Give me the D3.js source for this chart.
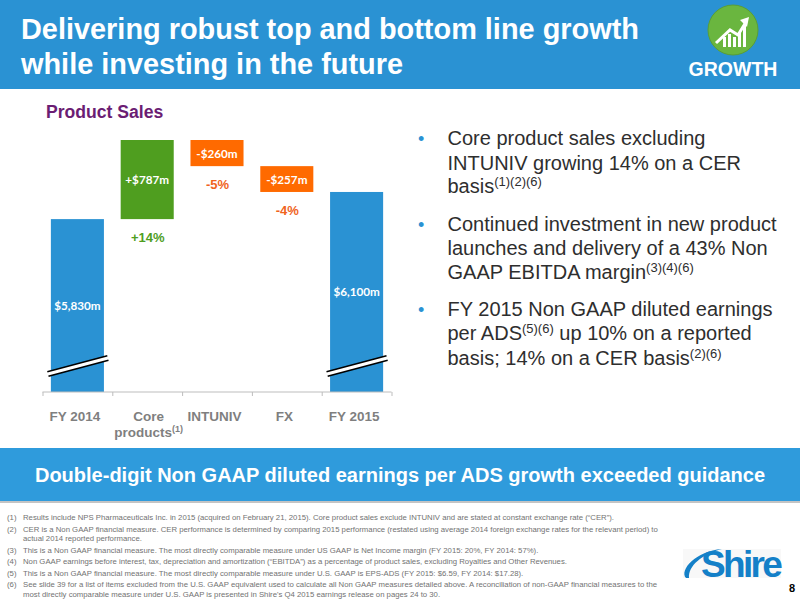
<!DOCTYPE html>
<html>
<head>
<meta charset="utf-8">
<script src="https://cdn.jsdelivr.net/npm/d3@7"></script>
<style>
body { margin: 0; background: #fff; }
svg { display: block; font-family: "Liberation Sans", Arial, sans-serif; }
.val { font-family: Lato, sans-serif; font-weight: 700; font-size: 11.7px; fill: #fff; text-anchor: middle; }
.pct { font-weight: bold; font-size: 13px; text-anchor: middle; }
.cat { font-weight: bold; font-size: 13.5px; fill: #7f7f7f; text-anchor: middle; }
</style>
</head>
<body>
<svg width="800" height="601"></svg>
<script>
const categories = ["FY 2014", "Core products", "INTUNIV", "FX", "FY 2015"];
const barStart = [4110, 5830, 6357, 6100, 4110];
const barEnd = [5830, 6617, 6617, 6357, 6100];
const barLabels = ["$5,830m", "+$787m", "-$260m", "-$257m", "$6,100m"];
const pctLabels = ["", "+14%", "-5%", "-4%", ""];
const barKinds = ["total", "up", "down", "down", "total"];

const titleLines = ["Delivering robust top and bottom line growth", "while investing in the future"];
const bullets = [
  [["Core product sales excluding"], ["INTUNIV growing 14% on a CER"], ["basis", "(1)(2)(6)"]],
  [["Continued investment in new product"], ["launches and delivery of a 43% Non"], ["GAAP EBITDA margin", "(3)(4)(6)"]],
  [["FY 2015 Non GAAP diluted earnings"], ["per ADS", "(5)(6)", " up 10% on a reported"], ["basis; 14% on a CER basis", "(2)(6)"]]
];
const notes = [
  ["(1)", "Results include NPS Pharmaceuticals Inc. in 2015 (acquired on February 21, 2015).  Core product sales exclude INTUNIV and are stated at constant exchange rate (\u201cCER\u201d)."],
  ["(2)", "CER is a Non GAAP financial measure. CER performance is determined by comparing 2015 performance (restated using average 2014 foreign exchange rates for the relevant period) to"],
  ["", "actual 2014 reported performance."],
  ["(3)", "This is a Non GAAP financial measure. The most directly comparable measure under US GAAP is Net Income margin (FY 2015: 20%, FY 2014: 57%)."],
  ["(4)", "Non GAAP earnings before interest, tax, depreciation and amortization (\u201cEBITDA\u201d) as a percentage of product sales, excluding Royalties and Other Revenues."],
  ["(5)", "This is a Non GAAP financial measure. The most directly comparable measure under U.S. GAAP is EPS-ADS (FY 2015: $6.59, FY 2014: $17.28)."],
  ["(6)", "See slide 39 for a list of items excluded from the U.S. GAAP equivalent used to calculate all Non GAAP measures detailed above. A reconciliation of non-GAAP financial measures to the"],
  ["", "most directly comparable measure under U.S. GAAP is presented in Shire's Q4 2015 earnings release on pages 24 to 30."]
];
const noteY = [520, 532, 541, 553, 564, 576, 587, 597];

const colors = { total: "#2a92d3", up: "#4f9e1f", down: "#ff6a00" };
const pctColors = { up: "#4f9e1f", down: "#f0641e" };

const svg = d3.select("svg");

// header + banner
svg.append("rect").attr("width", 800).attr("height", 89).attr("fill", "#2a92d3");
svg.append("rect").attr("y", 501).attr("width", 800).attr("height", 2).attr("fill", "#c4c4c4");
svg.append("rect").attr("y", 448).attr("width", 800).attr("height", 53).attr("fill", "#2f9bdc");

svg.selectAll("text.title")
  .data(titleLines)
  .enter()
  .append("text")
  .attr("class", "title")
  .attr("x", 21)
  .attr("y", (d, i) => 39 + i * 34.5)
  .attr("fill", "#fff")
  .attr("font-weight", "bold")
  .attr("font-size", 28.9)
  .text(d => d);

svg.append("text")
  .attr("x", 400).attr("y", 482)
  .attr("text-anchor", "middle")
  .attr("fill", "#fff")
  .attr("font-weight", "bold")
  .attr("font-size", 20)
  .text("Double-digit Non GAAP diluted earnings per ADS growth exceeded guidance");

// growth badge
const badge = svg.append("g").attr("transform", "translate(733, 30)");
badge.append("circle").attr("r", 25).attr("fill", "#6ab63f").attr("stroke", "#5a9e35").attr("stroke-width", 1);
badge.selectAll("rect")
  .data([[-10, 7], [-5, 4], [0, 7], [5, 3], [10, -5]])
  .enter()
  .append("rect")
  .attr("x", d => d[0]).attr("y", d => d[1])
  .attr("width", 3).attr("height", d => 17 - d[1])
  .attr("fill", "#fff");
badge.append("path")
  .attr("d", "M-17,13 L-3,0 L5,5 L13,-8")
  .attr("fill", "none").attr("stroke", "#fff").attr("stroke-width", 3);
badge.append("path").attr("d", "M7,-10 L16,-13 L14,-3 Z").attr("fill", "#fff");
svg.append("text")
  .attr("x", 733).attr("y", 76)
  .attr("text-anchor", "middle")
  .attr("fill", "#fff")
  .attr("font-weight", "bold")
  .attr("font-size", 19.5)
  .text("GROWTH");

svg.append("text")
  .attr("x", 46).attr("y", 118)
  .attr("fill", "#6b1d73")
  .attr("font-weight", "bold")
  .attr("font-size", 17.6)
  .text("Product Sales");

// chart
const x = d3.scaleBand().domain(categories).range([42.5, 391.5]).paddingInner(0.24).paddingOuter(0.12);
const y = d3.scaleLinear().domain([4110, 6617]).range([392, 140]);

const rows = categories.map((c, i) => ({
  cat: c, start: barStart[i], end: barEnd[i], label: barLabels[i], pct: pctLabels[i], kind: barKinds[i]
}));

const bars = svg.selectAll("g.bar")
  .data(rows)
  .enter()
  .append("g")
  .attr("class", "bar");

bars.append("rect")
  .attr("x", d => x(d.cat))
  .attr("y", d => y(d.end))
  .attr("width", x.bandwidth())
  .attr("height", d => y(d.start) - y(d.end))
  .attr("fill", d => colors[d.kind]);

bars.append("text")
  .attr("class", "val")
  .attr("x", d => x(d.cat) + x.bandwidth() / 2)
  .attr("y", d => (y(d.start) + y(d.end)) / 2 + 4.5)
  .text(d => d.label);

bars.filter(d => d.pct !== "")
  .append("text")
  .attr("class", "pct")
  .attr("x", d => x(d.cat) + x.bandwidth() / 2 + 0.5)
  .attr("y", d => y(d.start) + 23)
  .attr("fill", d => pctColors[d.kind])
  .text(d => d.pct);

// axis break marks on the two total bars
const breaks = svg.selectAll("g.brk")
  .data(rows.filter(d => d.kind === "total"))
  .enter()
  .append("g")
  .attr("class", "brk")
  .attr("transform", d => `translate(${x(d.cat) + x.bandwidth() / 2 + 0.5}, 366)`);
breaks.append("path").attr("d", "M-30,8 L30,-8").attr("stroke", "#000").attr("stroke-width", 6);
breaks.append("path").attr("d", "M-31,8.3 L31,-8.3").attr("stroke", "#fff").attr("stroke-width", 3);

// axis: ticks sit on the band edges, labels go in by hand so Core can wrap
const edges = categories.map(c => x(c) - x.step() * x.paddingInner() / 2)
  .concat([x(categories[4]) + x.bandwidth() + x.step() * x.paddingInner() / 2]);
svg.append("g")
  .attr("transform", "translate(0, 392)")
  .call(d3.axisBottom(d3.scaleIdentity()).tickValues(edges).tickSize(4).tickFormat(""))
  .call(g => g.select(".domain").attr("stroke", "#bdbdbd").attr("stroke-width", 1.2).attr("d", `M${edges[0]},0H${edges[5]}`))
  .call(g => g.selectAll("line").attr("stroke", "#bdbdbd"));

const catMid = c => x(c) + x.bandwidth() / 2;
svg.selectAll("text.cat")
  .data(categories)
  .enter()
  .append("text")
  .attr("class", "cat")
  .attr("x", d => d === "Core products" ? catMid(d) + 1.5 : catMid(d) - 2.5)
  .attr("y", 421)
  .text(d => d === "Core products" ? "Core" : d);

const products = svg.append("text")
  .attr("class", "cat")
  .attr("x", catMid("Core products") + 1.5)
  .attr("y", 437);
products.append("tspan").text("products");
products.append("tspan").attr("font-size", 9).attr("dy", -5).text("(1)");

// bullets
const lineY = [[145, 170, 193], [231, 255, 279], [316, 340, 365]];
bullets.forEach((lines, b) => {
  svg.append("text")
    .attr("x", 418).attr("y", lineY[b][0])
    .attr("fill", "#2a92d3").attr("font-size", 18).text("\u2022");
  lines.forEach((parts, l) => {
    const t = svg.append("text")
      .attr("x", 447.5).attr("y", lineY[b][l])
      .attr("fill", "#2e2e2e").attr("font-size", 20);
    let lastSup = false;
    parts.forEach(p => {
      const isSup = p.startsWith("(");
      t.append("tspan")
        .attr("font-size", isSup ? 13 : 20)
        .attr("dy", isSup ? -7 : (lastSup ? 7 : 0))
        .text(p);
      lastSup = isSup;
    });
  });
});

// footnotes
svg.selectAll("g.note")
  .data(notes)
  .enter()
  .append("g")
  .attr("class", "note")
  .attr("fill", "#727272")
  .attr("font-size", 7.75)
  .each(function (d, i) {
    const g = d3.select(this);
    g.append("text").attr("x", 7).attr("y", noteY[i]).text(d[0]);
    g.append("text").attr("x", 23).attr("y", noteY[i]).text(d[1]);
  });

// logo
svg.append("rect").attr("x", 683).attr("y", 549).attr("width", 98).attr("height", 29).attr("fill", "#f8f8f8");
svg.append("path")
  .attr("d", "M686,578 C679,570 696,551 722,549 C702,554 688,566 689,578 Z")
  .attr("fill", "#1480c8");
svg.append("text")
  .attr("x", 701).attr("y", 577)
  .attr("fill", "#1480c8")
  .attr("font-weight", "bold")
  .attr("font-size", 37)
  .attr("letter-spacing", -2.7)
  .text("Shire");

svg.append("text")
  .attr("x", 792).attr("y", 592)
  .attr("text-anchor", "middle")
  .attr("fill", "#000")
  .attr("font-weight", "bold")
  .attr("font-size", 11)
  .text("8");
</script>
</body>
</html>
